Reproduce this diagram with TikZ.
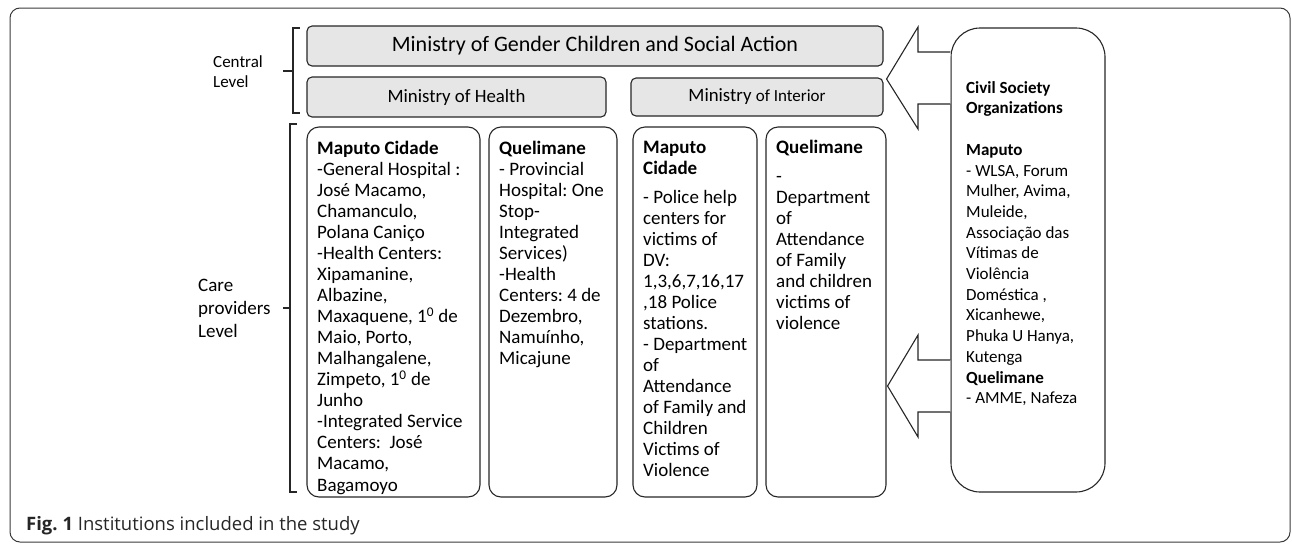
\documentclass[tikz,border=0pt]{standalone}
\usepackage{fontspec}
\setmainfont{Carlito}
\newfontfamily\capfont{Open Sans}
\usetikzlibrary{calc}
\definecolor{boxline}{HTML}{262626}
\definecolor{boxfill}{HTML}{E6E6E6}
\definecolor{framecol}{HTML}{3A3A3A}
\tikzset{
  graybox/.style={draw=boxline, fill=boxfill, line width=1.1pt, rounded corners=5pt, inner sep=0pt},
  carebox/.style={draw=boxline, line width=1.1pt, rounded corners=12pt, inner sep=0pt},
  civilbox/.style={draw=boxline, line width=1.1pt, rounded corners=29pt, inner sep=0pt},
  bodytext/.style={anchor=north west, inner sep=0pt, align=left},
  levellabel/.style={anchor=west, inner sep=0pt, align=left},
  bracket/.style={draw=boxline, line width=1.1pt},
  blockarrow/.style={draw=boxline, fill=white, line width=1.1pt, line join=miter}
}
\lineskiplimit=-100pt
\frenchspacing
\begin{document}
\lineskiplimit=-100pt
\frenchspacing
\begin{tikzpicture}[x=1pt,y=-1pt]
\useasboundingbox (0,0) rectangle (1292,544);
% outer frame
\draw[framecol, line width=1pt, rounded corners=10pt] (10,8) rectangle (1290,542);

% central level
\node[graybox, minimum width=576pt, minimum height=40pt, font=\fontsize{22}{26}\selectfont] (mgcas) at (595,46) {Ministry of Gender Children and Social Action};
\node[graybox, minimum width=299pt, minimum height=40pt, font=\fontsize{18.8}{22}\selectfont] (health) at (456.5,97) {Ministry of Health};
\node[graybox, minimum width=252pt, minimum height=38pt, font=\fontsize{18.8}{22}\selectfont] (interior) at (757,97) {Ministry {\fontsize{17}{20}\selectfont of Interior}};

\node[levellabel, font=\fontsize{17}{20}\selectfont] (central) at (213,72) {Central\\Level};
\draw[bracket] (300,28) -- (293,28) -- (293,113) -- (300,113);
\draw[bracket] (293,71) -- (283,71);

% care providers level
\node[levellabel, font=\fontsize{19}{23}\selectfont] (care) at (198,308) {Care\\providers\\Level};
\draw[bracket] (297,124) -- (290,124) -- (290,492) -- (297,492);
\draw[bracket] (290,308) -- (283,308);

\node[carebox, minimum width=173pt, minimum height=370pt] (mapH) at (393.5,312) {};
\node[carebox, minimum width=128pt, minimum height=370pt] (queH) at (553,312) {};
\node[carebox, minimum width=124pt, minimum height=370pt] (mapP) at (695,312) {};
\node[carebox, minimum width=120pt, minimum height=370pt] (queP) at (826,312) {};

\node[bodytext, font=\fontsize{19}{21.05}\selectfont] (mapHt) at (317,139) {\rule{0pt}{15pt}\textbf{Maputo Cidade}\\
-General Hospital :\\
José Macamo,\\
Chamanculo,\\
Polana Caniço\\
-Health Centers:\\
Xipamanine,\\
Albazine,\\
Maxaquene, 1\textsuperscript{0} de\\
Maio, Porto,\\
Malhangalene,\\
Zimpeto, 1\textsuperscript{0} de\\
Junho\\
-Integrated Service\\
Centers:\ \ José\\
Macamo,\\
Bagamoyo};

\node[bodytext, font=\fontsize{19}{21.05}\selectfont] (queHt) at (499,139) {\rule{0pt}{15pt}\textbf{Quelimane}\\
- Provincial\\
Hospital: One\\
Stop-\\
Integrated\\
Services)\\
-Health\\
Centers: 4 de\\
Dezembro,\\
Namuínho,\\
Micajune};

\node[bodytext, font=\fontsize{19}{21}\selectfont] (mapPt) at (643,138) {\rule{0pt}{15pt}\textbf{Maputo}\\
\textbf{Cidade}\\[8.4pt]
- Police help\\
centers for\\
victims of\\
DV:\\
1,3,6,7,16,17\\
,18 Police\\
stations.\\
- Department\\
of\\
Attendance\\
of Family and\\
Children\\
Victims of\\
Violence};

\node[bodytext, font=\fontsize{19}{21}\selectfont] (quePt) at (776,138) {\rule{0pt}{15pt}\textbf{Quelimane}\\[8.4pt]
-\\
Department\\
of\\
Attendance\\
of Family\\
and children\\
victims of\\
violence};

% civil society
\node[civilbox, minimum width=154pt, minimum height=464pt] (civil) at (1028,260) {};
\node[bodytext, font=\fontsize{17}{20.7}\selectfont] (civilt) at (966,78) {\rule{0pt}{15pt}\textbf{Civil Society}\\
\textbf{Organizations}\\[20.7pt]
\textbf{Maputo}\\
- WLSA, Forum\\
Mulher, Avima,\\
Muleide,\\
Associação das\\
Vítimas de\\
Violência\\
Doméstica ,\\
Xicanhewe,\\
Phuka U Hanya,\\
Kutenga\\
\textbf{Quelimane}\\
- AMME, Nafeza};

% block arrows from civil society
\coordinate (tipA) at ($(interior.east |- 0,79)+(3,0)$);
\coordinate (tipB) at ($(queP.east |- 0,386)+(1,0)$);
\draw[blockarrow] (civil.west |- 0,52) -- (918,52) -- (918,27) -- (tipA) -- (918,129) -- (918,104) -- (civil.west |- 0,104);
\draw[blockarrow] (civil.west |- 0,360) -- (918,360) -- (918,335) -- (tipB) -- (918,437) -- (918,412) -- (civil.west |- 0,412);

% caption
\node[anchor=base west, inner sep=0pt, font=\capfont\fontsize{18.5}{22}\selectfont, text=black!85] (caption) at (26,530) {\textbf{Fig. 1} Institutions included in the study};
\end{tikzpicture}
\end{document}
